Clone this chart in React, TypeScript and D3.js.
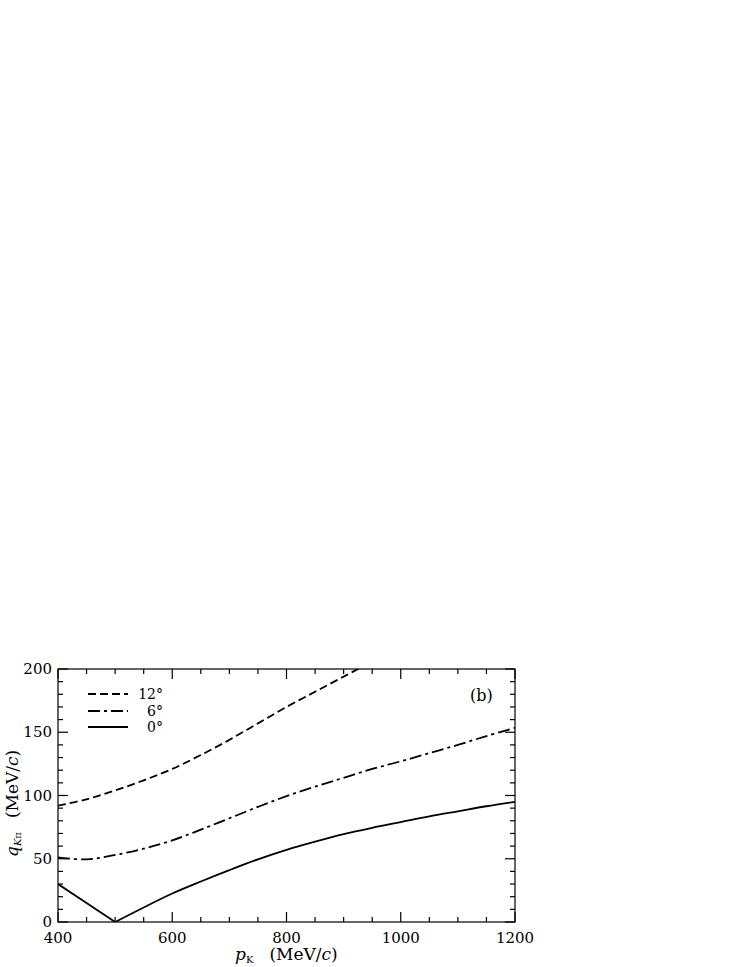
import React, { Component } from "react";
import * as d3 from "d3";

// momentum of the kaon (MeV/c)
const pK = [400, 450, 500, 550, 600, 650, 700, 750, 800, 850, 900, 950, 1000, 1050, 1100, 1150, 1200];

// q_Kpi for each angle
const q12 = [92, 97, 104, 112, 121, 132, 144, 157, 170, 182, 194, 206, 218, 230, 242, 254, 266];
const q6 = [51, 49.5, 53, 58, 64.5, 73, 82, 91, 99.5, 107, 114, 121, 127, 133.5, 140, 147, 153.5];
const q0 = [30, 15, 0, 11.5, 22.5, 32, 41, 49.5, 57, 63.5, 69.5, 74.5, 79, 83.5, 87.5, 91.5, 95];

const xTicks = [400, 600, 800, 1000, 1200];
const yTicks = [0, 50, 100, 150, 200];
const legendLabels = ["12°", "6°", "0°"];

const FONT = "DejaVu Serif";

class App extends Component {
  svgRef = React.createRef<SVGSVGElement>();

  componentDidMount() {
    const margin = { left: 58, top: 669, right: 515, bottom: 922 };

    const xScale = d3.scaleLinear().domain([400, 1200]).range([margin.left, margin.right]);
    const yScale = d3.scaleLinear().domain([0, 200]).range([margin.bottom, margin.top]);

    const svg = d3.select(this.svgRef.current);

    svg.append("clipPath").attr("id", "plotclip")
      .append("rect")
      .attr("x", margin.left).attr("y", margin.top)
      .attr("width", margin.right - margin.left).attr("height", margin.bottom - margin.top);

    // frame
    svg.append("rect")
      .attr("x", margin.left).attr("y", margin.top)
      .attr("width", margin.right - margin.left).attr("height", margin.bottom - margin.top)
      .attr("fill", "none").attr("stroke", "black").attr("stroke-width", 1.2);

    // ticks on all four sides, pointing in
    const ticks = svg.append("g").attr("stroke", "black").attr("stroke-width", 1.2);
    d3.range(400, 1201, 50).forEach(v => {
      const len = v % 200 === 0 ? 10 : 5;
      const x = xScale(v);
      ticks.append("line").attr("x1", x).attr("x2", x).attr("y1", margin.bottom).attr("y2", margin.bottom - len);
      ticks.append("line").attr("x1", x).attr("x2", x).attr("y1", margin.top).attr("y2", margin.top + len);
    });
    d3.range(0, 201, 10).forEach(v => {
      const len = v % 50 === 0 ? 10 : 5;
      const y = yScale(v);
      ticks.append("line").attr("x1", margin.left).attr("x2", margin.left + len).attr("y1", y).attr("y2", y);
      ticks.append("line").attr("x1", margin.right).attr("x2", margin.right - len).attr("y1", y).attr("y2", y);
    });

    // tick labels
    svg.append("g").selectAll("text").data(xTicks).join("text")
      .attr("x", d => xScale(d)).attr("y", 943)
      .attr("text-anchor", "middle")
      .style("font-family", FONT).style("font-size", "15px")
      .text(d => d);
    svg.append("g").selectAll("text").data(yTicks).join("text")
      .attr("x", 52).attr("y", d => yScale(d) + 5)
      .attr("text-anchor", "end")
      .style("font-family", FONT).style("font-size", "15px")
      .text(d => d);

    // axis titles
    const xt = svg.append("text").attr("x", 235).attr("y", 960).style("font-family", FONT).style("font-size", "17px");
    xt.append("tspan").style("font-style", "italic").text("p");
    xt.append("tspan").attr("dy", 3).style("font-size", "10px").text("K");
    xt.append("tspan").attr("dy", -3).attr("dx", 16).text("(MeV/");
    xt.append("tspan").style("font-style", "italic").text("c");
    xt.append("tspan").text(")");

    const yt = svg.append("text").attr("transform", "translate(18,857) rotate(-90)")
      .style("font-family", FONT).style("font-size", "17px");
    yt.append("tspan").style("font-style", "italic").text("q");
    yt.append("tspan").attr("dy", 3).style("font-size", "10px").style("font-style", "italic").text("K");
    yt.append("tspan").style("font-size", "10px").text("π");
    yt.append("tspan").attr("dy", -3).attr("dx", 14).text("(MeV/");
    yt.append("tspan").style("font-style", "italic").text("c");
    yt.append("tspan").text(")");

    // curves
    const series = [
      { vals: q12, dash: "8,4" },
      { vals: q6, dash: "12,4,3,4" },
      { vals: q0, dash: null }
    ];
    const plot = svg.append("g").attr("clip-path", "url(#plotclip)");
    const smooth = d3.line<number>()
      .x((d, i) => xScale(pK[i]))
      .y(d => yScale(d))
      .curve(d3.curveCatmullRom);
    series.slice(0, 2).forEach(s => {
      plot.append("path")
        .attr("d", smooth(s.vals))
        .attr("fill", "none").attr("stroke", "black").attr("stroke-width", 1.8)
        .attr("stroke-dasharray", s.dash);
    });

    // 0 degree curve has a sharp minimum at 500, so draw it in two pieces
    const iMin = q0.indexOf(d3.min(q0) as number);
    const left = d3.line<number>().x((d, i) => xScale(pK[i])).y(d => yScale(d));
    const right = d3.line<number>()
      .x((d, i) => xScale(pK[i + iMin]))
      .y(d => yScale(d))
      .curve(d3.curveCatmullRom);
    plot.append("path").attr("d", left(q0.slice(0, iMin + 1)))
      .attr("fill", "none").attr("stroke", "black").attr("stroke-width", 1.8);
    plot.append("path").attr("d", right(q0.slice(iMin)))
      .attr("fill", "none").attr("stroke", "black").attr("stroke-width", 1.8);

    // legend
    const legY = [694, 711, 727];
    series.forEach((s, i) => {
      svg.append("line")
        .attr("x1", 88).attr("x2", 128).attr("y1", legY[i]).attr("y2", legY[i])
        .attr("stroke", "black").attr("stroke-width", 1.8)
        .attr("stroke-dasharray", s.dash);
      svg.append("text")
        .attr("x", 163).attr("y", legY[i] + 5)
        .attr("text-anchor", "end")
        .style("font-family", FONT).style("font-size", "14px")
        .text(legendLabels[i]);
    });

    svg.append("text").attr("x", 470).attr("y", 701)
      .style("font-family", FONT).style("font-size", "16px")
      .text("(b)");
  }

  render() {
    return (
      <svg ref={this.svgRef} width="747" height="967"
        style={{ position: "absolute", left: 0, top: 0, background: "white" }}></svg>
    );
  }
}

export default App;
